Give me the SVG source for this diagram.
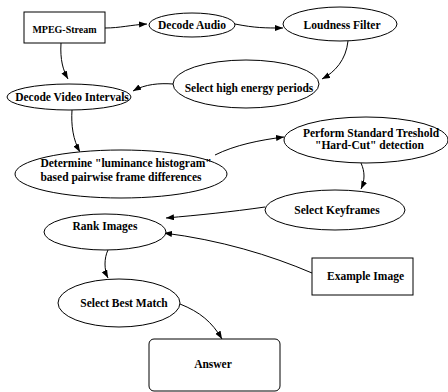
<svg xmlns="http://www.w3.org/2000/svg" width="448" height="392" viewBox="0 0 448 392">
<style>
.n{fill:#fff;stroke:#000;stroke-width:1}
.t{font-family:"Liberation Serif","Times New Roman",serif;font-weight:bold;font-size:11.5px;fill:#000;text-anchor:middle}
.s{font-size:10px}
.e{fill:none;stroke:#000;stroke-width:1;marker-end:url(#ah)}
</style>
<defs>
<marker id="ah" markerUnits="userSpaceOnUse" markerWidth="9" markerHeight="7" refX="8" refY="3" orient="auto">
<path d="M0,0 L8,3 L0,6 z" fill="#000"/>
</marker>
</defs>
<rect width="448" height="392" fill="#fff"/>
<g id="edges">
<path class="e" d="M105,28 C120,28 130,25 147,24"/>
<path class="e" d="M235,24 C255,28 265,28 283,28"/>
<path class="e" d="M61,43 C60,60 63,70 68,79"/>
<path class="e" d="M348,41 C346,60 335,72 322,79"/>
<path class="e" d="M173,84 C160,83 145,84 133,91"/>
<path class="e" d="M72,110 C71,125 73,140 80,152"/>
<path class="e" d="M215,155 C235,145 260,140 284,137"/>
<path class="e" d="M361,163 C365,172 365,180 361,189"/>
<path class="e" d="M265,207 C230,212 200,215 166,218"/>
<path class="e" d="M312,273 C270,255 220,240 164,233"/>
<path class="e" d="M108,250 C104,258 104,270 108,278"/>
<path class="e" d="M180,304 C200,312 212,322 222,339"/>
</g>
<g id="mpeg"><rect class="n" x="24" y="12" width="81" height="31"/><text class="t s" x="64.5" y="32.5">MPEG-Stream</text></g>
<g id="decodeaudio"><ellipse class="n" cx="192" cy="25" rx="43" ry="12"/><text class="t" x="192" y="29">Decode Audio</text></g>
<g id="loudness"><ellipse class="n" cx="340" cy="24" rx="57" ry="17"/><text class="t" x="342" y="29">Loudness Filter</text></g>
<g id="selecthigh"><ellipse class="n" cx="246" cy="84" rx="73" ry="24"/><text class="t" x="249" y="92">Select high energy periods</text></g>
<g id="decodevideo"><ellipse class="n" cx="69" cy="97" rx="62" ry="13"/><text class="t" x="72" y="101">Decode Video Intervals</text></g>
<g id="determine"><ellipse class="n" cx="121" cy="174" rx="106" ry="24"/><text class="t" x="126" y="167">Determine "luminance histogram"</text><text class="t" x="121" y="181">based pairwise frame differences</text></g>
<g id="perform"><ellipse class="n" cx="366" cy="140" rx="82" ry="23"/><text class="t" x="371" y="137">Perform Standard Treshold</text><text class="t" x="369.5" y="149">"Hard-Cut" detection</text></g>
<g id="keyframes"><ellipse class="n" cx="335" cy="210" rx="70" ry="20"/><text class="t" x="337" y="214">Select Keyframes</text></g>
<g id="rank"><ellipse class="n" cx="105" cy="232" rx="61" ry="18"/><text class="t" x="105" y="230">Rank Images</text></g>
<g id="example"><rect class="n" x="312" y="258" width="101" height="37"/><text class="t" x="365.5" y="280">Example Image</text></g>
<g id="bestmatch"><ellipse class="n" cx="119" cy="303" rx="61" ry="24"/><text class="t" x="124" y="307">Select Best Match</text></g>
<g id="answer"><rect class="n" x="149" y="339" width="131" height="52" rx="5"/><text class="t" x="213" y="368">Answer</text></g>
</svg>
